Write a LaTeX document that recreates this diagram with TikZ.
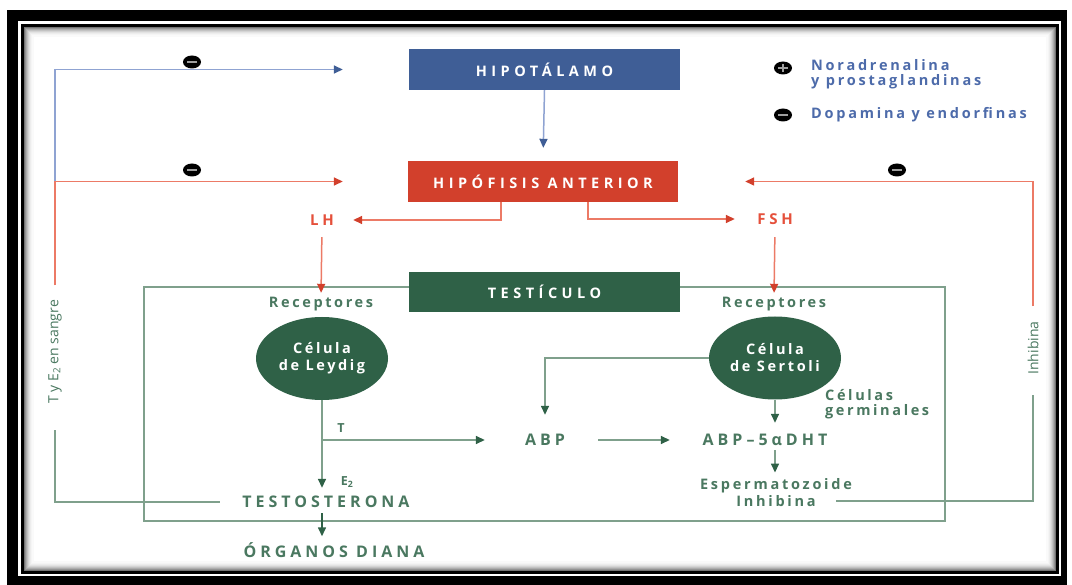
\documentclass[tikz,border=0pt]{standalone}
\usepackage{fontspec}
\setmainfont{Open Sans}
\newfontfamily\boxf{Open Sans}[LetterSpace=31]
\newfontfamily\capsf{Open Sans}[LetterSpace=25]
\newfontfamily\lowf{Open Sans}[LetterSpace=18]
\newfontfamily\legf{Open Sans}[LetterSpace=19]
\usetikzlibrary{arrows.meta,shapes.geometric}
\definecolor{hblue}{HTML}{3F5E96}
\definecolor{lblue}{HTML}{8FA3D2}
\definecolor{tblue}{HTML}{4D6BAA}
\definecolor{hred}{HTML}{D2402C}
\definecolor{lred}{HTML}{EC7A66}
\definecolor{tred}{HTML}{E5503B}
\definecolor{dgreen}{HTML}{2F6147}
\definecolor{lgreen}{HTML}{7FA08C}
\definecolor{tgreen}{HTML}{4A7860}
\begin{document}
\begin{tikzpicture}[x=1pt,y=-1pt,
 tx/.style={inner sep=0pt, minimum height=14},
 caps/.style={tx, font=\capsf\bfseries\fontsize{16}{18}\selectfont},
 low/.style={tx, font=\lowf\bfseries\fontsize{14.5}{16}\selectfont},
 box/.style={tx, font=\boxf\bfseries\fontsize{14.5}{17}\selectfont, text=white, minimum width=271, minimum height=41},
 cell/.style={ellipse, fill=dgreen, text=white, minimum width=132, minimum height=83, inner sep=0pt, align=center, font=\lowf\bfseries\fontsize{14.5}{17}\selectfont},
 rot/.style={tx, rotate=90, text=tgreen, font=\fontsize{14}{16}\selectfont},
 bl/.style={lblue, line width=1.5},
 rl/.style={lred, line width=1.5},
 gl/.style={lgreen, line width=1.5},
 barr/.style={-{Triangle[length=9pt,width=8pt,color=hblue]}},
 rarr/.style={-{Triangle[length=9pt,width=8pt,color=hred]}},
 garr/.style={-{Triangle[length=9pt,width=8pt,color=dgreen]}},
 minus/.style={ellipse, fill=black, minimum width=18, minimum height=13, inner sep=0pt,
   path picture={\draw[gray!75, line width=2.2] ([xshift=-5pt]path picture bounding box.center) -- ([xshift=5pt]path picture bounding box.center);}},
 plus/.style={ellipse, fill=black, minimum width=18, minimum height=13, inner sep=0pt,
   path picture={\draw[gray!75, line width=2.2] ([xshift=-5pt]path picture bounding box.center) -- ([xshift=5pt]path picture bounding box.center) ([yshift=-4pt]path picture bounding box.center) -- ([yshift=4pt]path picture bounding box.center);}}
]
\useasboundingbox (0,0) rectangle (1072,585);
% frame
\fill[black] (7,10) rectangle (1067,585);
\fill[white] (18,21) rectangle (1061,576);
\draw[black, line width=3] (22.5,25.5) rectangle (1057.5,572.5);
\foreach \i/\c in {1/55,2/42,3/32,4/24,5/17,6/11,7/7,8/4,9/2}{
  \draw[black!\c, line width=1.1] (24+\i,27+\i) rectangle (1056-\i,571-\i);}

% main boxes
\node[box, fill=hblue] (hip) at (544.5,69.5) {HIPOTÁLAMO};
\node[box, fill=hred, minimum width=270] (pit) at (543,181.5) {HIPÓFISIS ANTERIOR};
\node[draw=lgreen, line width=1.5, minimum width=801, minimum height=234, inner sep=0pt] (big) at (544.5,404) {};
\node[box, fill=dgreen, minimum height=40] (tes) at (544.5,292) {TESTÍCULO};

% hormones
\node[caps, text=tred, font=\capsf\bfseries\fontsize{15}{17}\selectfont, minimum width=28] (LH) at (322,220) {LH};
\node[caps, text=tred, font=\capsf\bfseries\fontsize{15}{17}\selectfont, minimum width=45] (FSH) at (775,219) {FSH};
\node[low, text=tgreen, minimum width=109] (recL) at (321,304) {Receptores};
\node[low, text=tgreen, minimum width=109] (recR) at (774,304) {Receptores};
\node[cell] (ley) at (322,358.5) {Célula\\de Leydig};
\node[cell] (ser) at (775,358) {Célula\\de Sertoli};
\node[caps, text=tgreen, minimum width=46] (ABP) at (545,440) {ABP};
\node[caps, text=tgreen, minimum width=144] (ABP5) at (765,440) {ABP–5αDHT};
\node[low, text=tgreen, font=\legf\bfseries\fontsize{14.5}{16}\selectfont, minimum width=155] (esp) at (776,486) {Espermatozoide};
\node[low, text=tgreen, font=\legf\bfseries\fontsize{14.5}{16}\selectfont, minimum width=77] (inh) at (776,501) {Inhibina};
\node[low, text=tgreen, anchor=west, align=left, font=\lowf\bfseries\fontsize{14.5}{15}\selectfont] (germ) at (825,404.5) {Células\\germinales};
\node[caps, text=tgreen, minimum width=172] (testo) at (326,502) {TESTOSTERONA};
\node[caps, text=tgreen, minimum width=188] (org) at (334,550) {ÓRGANOS DIANA};
\node[low, text=tgreen, font=\lowf\bfseries\fontsize{12.5}{14}\selectfont] (Tl) at (341,428) {T};
\node[low, text=tgreen, font=\lowf\bfseries\fontsize{12.5}{14}\selectfont] (E2l) at (347,482) {E\textsubscript{2}};
\node[rot, minimum width=101] (tye) at (55,352) {T y E\textsubscript{2} en sangre};
\node[rot, minimum width=50] (inhr) at (1033,348) {Inhibina};

% signs
\node[minus] (m1) at (192,62) {};
\node[minus] (m2) at (192,170) {};
\node[minus] (m3) at (897,170) {};
\node[plus] (lp) at (783,68) {};
\node[minus] (lm) at (783,115) {};
\node[low, text=tblue, anchor=west, align=left, font=\legf\bfseries\fontsize{14.5}{15}\selectfont] (legp) at (811,74.5) {Noradrenalina\\y prostaglandinas};
\node[low, text=tblue, anchor=west, font=\legf\bfseries\fontsize{14.5}{15}\selectfont] (legm) at (811,115) {Dopamina y endorfinas};

% connectors: top
\draw[bl, barr, shorten >=13pt] (hip.south) -- (pit.north);
\draw[rl, rarr, shorten >=17pt] ([xshift=-42pt]pit.south) |- (LH.east);
\draw[rl, rarr, shorten >=17.5pt] ([xshift=45pt]pit.south) |- (FSH.west);
\draw[rl, rarr, shorten <=10pt, shorten >=4pt] (LH.south) -- (recL.north);
\draw[rl, rarr, shorten <=11pt, shorten >=4pt] (FSH.south) -- (recR.north);

% inside testis
\coordinate (tb) at (ley.south |- ABP.west);
\draw[gl, garr, shorten >=7pt] (ley.south) -- (ley.south |- testo.north);
\draw[gl, garr, shorten >=37pt] (tb) -- (ABP.west);
\draw[gl, garr, shorten <=30pt, shorten >=23pt] (ABP.east) -- (ABP5.west);
\draw[gl, garr, shorten >=18pt] (ser.west) -| (ABP.north);
\draw[gl, garr, shorten >=10pt] (ser.south) -- (ser.south |- ABP5.north);
\draw[gl, garr, shorten <=3pt, shorten >=6pt] (ser.south |- ABP5.south) -- (ser.south |- esp.north);
\draw[line width=1.5, dgreen, garr, shorten <=4pt, shorten >=6pt] (ley.south |- testo.south) -- (ley.south |- org.north);

% feedback left
\draw[gl, shorten <=20pt, shorten >=25.5pt] (testo.west) -| (tye.west);
\draw[rl, rarr, shorten <=14.5pt, shorten >=65pt] (tye.east) |- (pit.west);
\coordinate (lc) at (tye.east |- pit.west);
\draw[bl, barr, shorten >=66pt] (lc) |- (hip.west);

% feedback right
\draw[gl, shorten <=20.5pt, shorten >=20pt] (inh.east) -| (inhr.west);
\draw[rl, rarr, shorten <=15pt, shorten >=67pt] (inhr.east) |- (pit.east);
\end{tikzpicture}
\end{document}
